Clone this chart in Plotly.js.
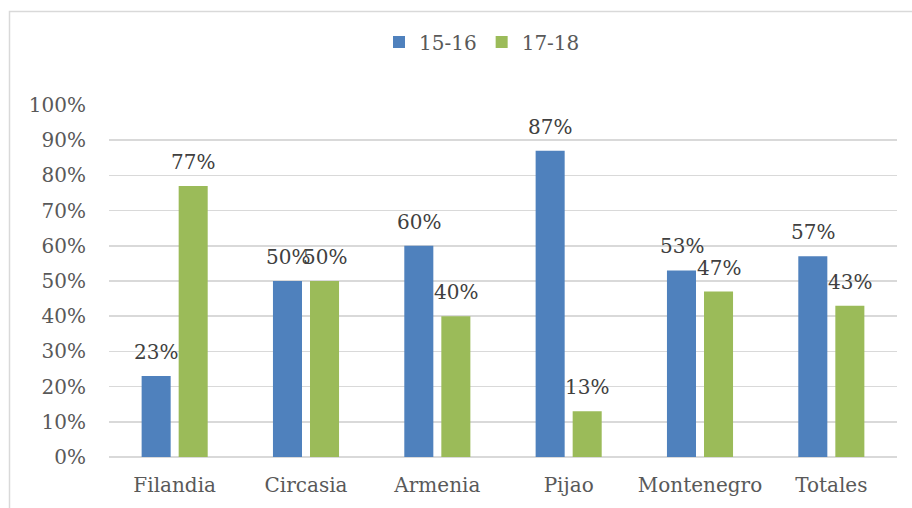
<!DOCTYPE html>
<html><head><meta charset="utf-8">
<script src="https://cdn.plot.ly/plotly-3.0.1.min.js"></script>
<style>html,body{margin:0;padding:0;background:#fff}#chart{width:912px;height:508px}</style>
</head><body><div id="chart"></div>
<script>
const categories = ["Filandia", "Circasia", "Armenia", "Pijao", "Montenegro", "Totales"];
const seriesNames = ["15-16", "17-18"];
const values1516 = [0.23, 0.50, 0.60, 0.87, 0.53, 0.57];
const values1718 = [0.77, 0.50, 0.40, 0.13, 0.47, 0.43];
const yTickVals = [0, 0.1, 0.2, 0.3, 0.4, 0.5, 0.6, 0.7, 0.8, 0.9, 1.0];
const yTickText = ["0%", "10%", "20%", "30%", "40%", "50%", "60%", "70%", "80%", "90%", "100%"];

const colors = ["#4F81BD", "#9BBB59"];
const FONT = "DejaVu Serif, serif";
const L = 109, R = 15, T = 105, B = 51, W = 912, H = 508;
const pw = W - L - R, ph = H - T - B;

const traces = [values1516, values1718].map((vals, i) => ({
  type: "bar", name: seriesNames[i], x: categories, y: vals,
  marker: {color: colors[i]}, hoverinfo: "skip"
}));

const annotations = [];
[values1516, values1718].forEach((vals, i) => {
  vals.forEach((v, j) => {
    annotations.push({
      x: categories[j], y: v, xref: "x", yref: "y",
      text: Math.round(v * 100) + "%", showarrow: false,
      xshift: i === 0 ? -18.5 : 18.5, yshift: 24, yanchor: "middle",
      font: {family: FONT, size: 20, color: "#404040"}
    });
  });
});

const px2x = p => (p - L) / pw;
const py2y = p => (H - B - p) / ph;

const layout = {
  width: W, height: H,
  margin: {l: L, r: R, t: T, b: B, pad: 0},
  paper_bgcolor: "#ffffff", plot_bgcolor: "#ffffff",
  barmode: "group", bargap: 0.436, bargroupgap: 0.216,
  showlegend: true,
  legend: {orientation: "h", x: px2x(482), xanchor: "center", y: py2y(42), yanchor: "middle",
           font: {family: FONT, size: 20, color: "#595959"}, itemwidth: 30, traceorder: "normal"},
  xaxis: {type: "category", tickfont: {family: FONT, size: 20, color: "#595959"},
          showgrid: false, showline: false, ticks: "", ticklabelstandoff: 14, fixedrange: true},
  yaxis: {range: [0, 1], tickvals: yTickVals, ticktext: yTickText,
          tickfont: {family: FONT, size: 20, color: "#595959"},
          showgrid: true, gridcolor: "#d9d9d9", gridwidth: 1.5, zeroline: true, zerolinecolor: "#d9d9d9", zerolinewidth: 1.5,
          showline: false, ticks: "", ticklabelstandoff: 22, fixedrange: true},
  annotations: annotations,
  shapes: [{type: "rect", xref: "paper", yref: "paper",
            x0: px2x(9.5), x1: px2x(918), y0: py2y(520), y1: py2y(11.5),
            line: {color: "#d9d9d9", width: 1.5}, fillcolor: "rgba(0,0,0,0)", layer: "below"}]
};

Plotly.newPlot("chart", traces, layout, {displayModeBar: false, staticPlot: true});
</script></body></html>
